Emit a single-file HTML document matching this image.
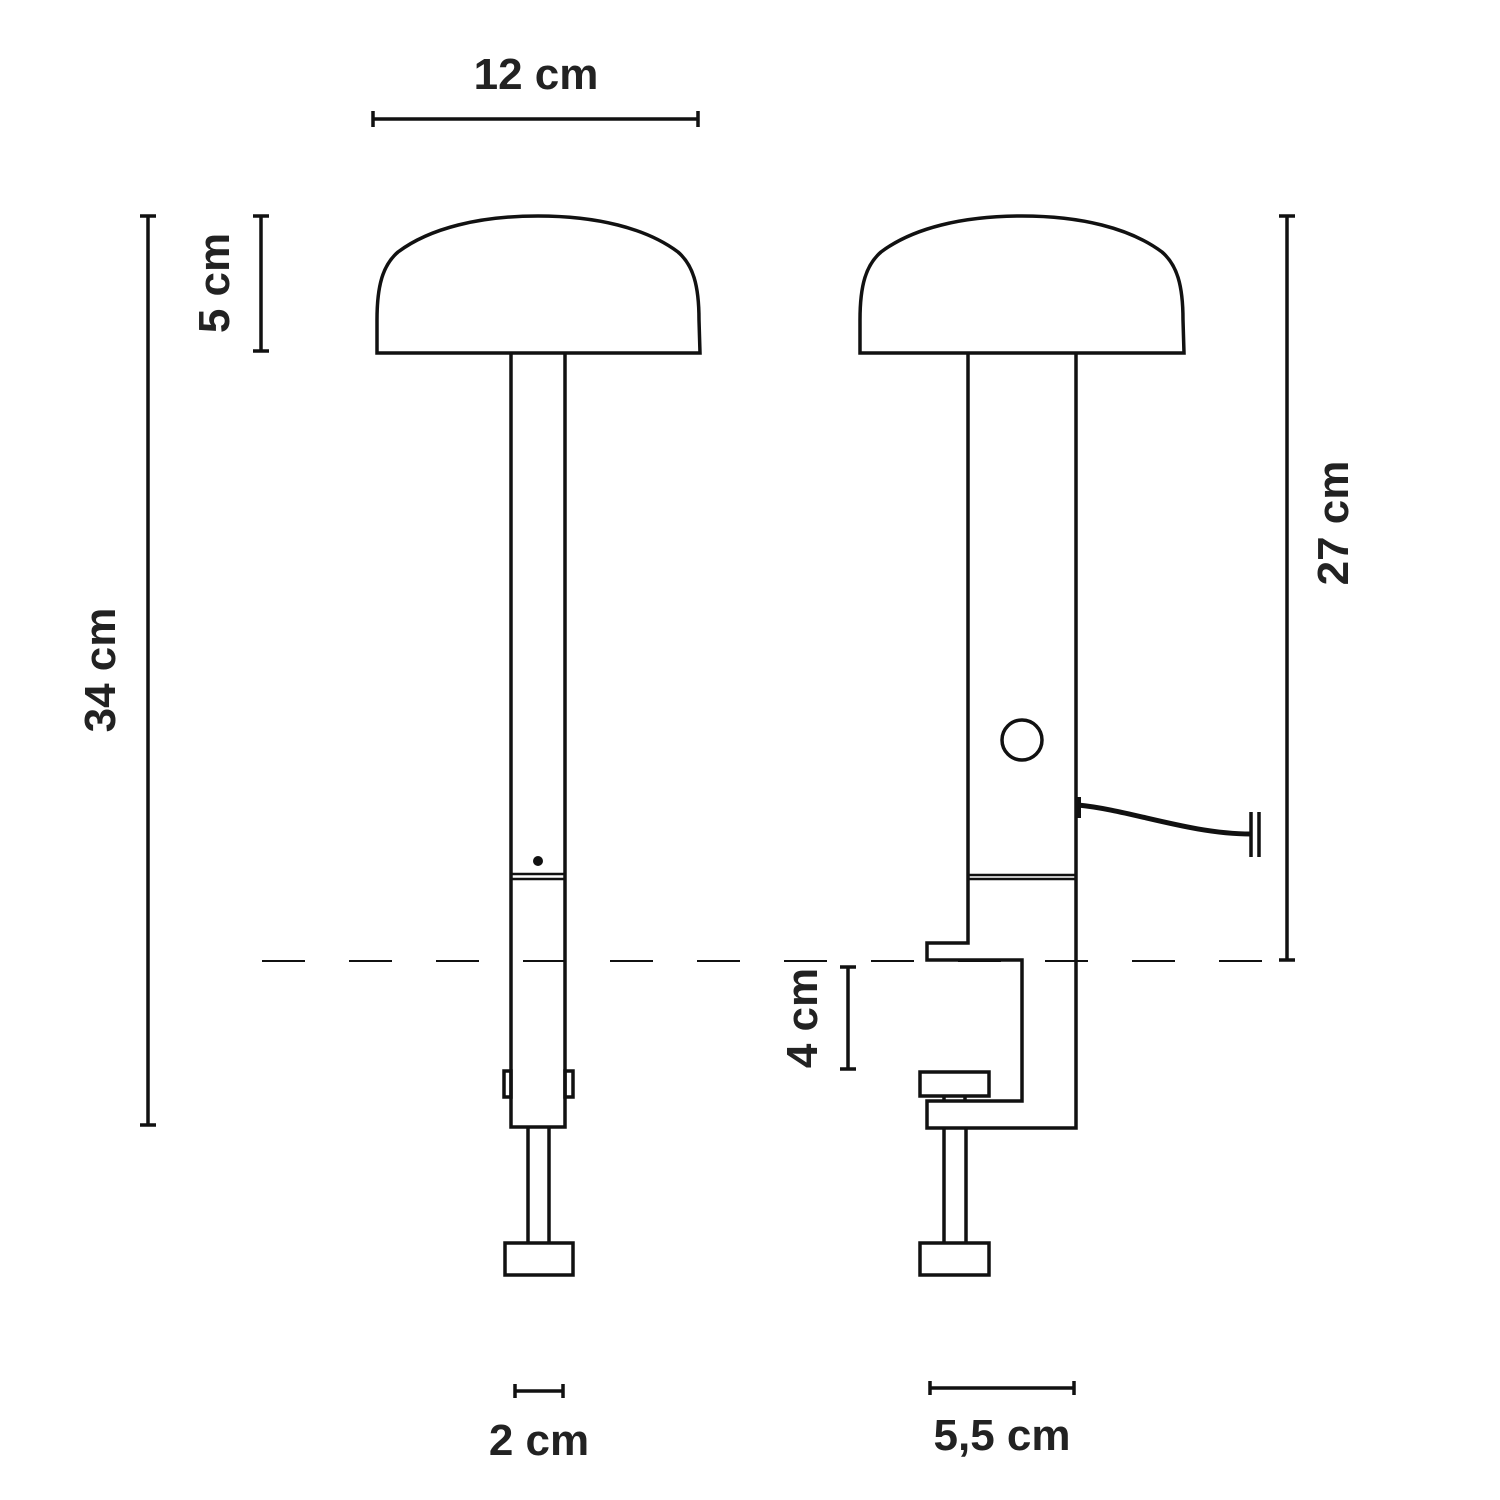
<!DOCTYPE html>
<html><head><style>body{margin:0;background:#fff}svg{display:block}</style></head><body>
<svg width="1500" height="1500" viewBox="0 0 1500 1500" xmlns="http://www.w3.org/2000/svg">
<g fill="none" stroke="#111" stroke-width="3.5">
<!-- dims -->
<path d="M373,119H698M373,111V127M698,111V127"/>
<path d="M148,216V1125M140,216H156M140,1125H156"/>
<path d="M261,216V351M253,216H269M253,351H269"/>
<path d="M1287,216V960M1279,216H1295M1279,960H1295"/>
<path d="M848,967V1069M840,967H856M840,1069H856"/>
<path d="M515,1391H563M515,1384V1398M563,1384V1398"/>
<path d="M930,1388H1074M930,1381V1395M1074,1381V1395"/>
<path d="M262,961H1283" stroke-width="2" stroke-dasharray="43,44"/>
<!-- left lamp -->
<path d="M377,353 L377,320 C377,285 383,265 398,252 C430,228 480,216 538,216 C596,216 646,228 678,252 C693,265 699,285 699,320 L700,353 Z"/>
<path d="M511,353V1127H565V353"/>
<path d="M511,874H565M511,879H565" stroke-width="2.5"/>
<path d="M504,1071H511V1097H504ZM565,1071H573V1097H565Z"/>
<path d="M528,1127V1243M549,1127V1243"/>
<rect x="505" y="1243" width="68" height="32"/>
<!-- right lamp -->
<path d="M860,353 L860,320 C860,285 866,265 881,252 C913,228 963,216 1022,216 C1080,216 1130,228 1162,252 C1177,265 1183,285 1183,320 L1184,353 Z"/>
<path d="M968,353V943H927V960H1022V1101H927V1128H1076V353"/>
<path d="M968,875H1076M968,879H1076" stroke-width="2.5"/>
<circle cx="1022" cy="740" r="20"/>
<rect x="920" y="1072" width="69" height="24"/>
<path d="M944,1096V1101M965,1096V1101"/>
<path d="M944,1128V1243M966,1128V1243"/>
<rect x="920" y="1243" width="69" height="32"/>
<path d="M1078,805 C1130,810 1190,834 1251,834" stroke-width="5"/>
<path d="M1079,797V818" stroke-width="4"/>
<path d="M1251,812V857M1259,812V857"/>
</g>
<circle cx="538" cy="861" r="5" fill="#111"/>
<g font-family="Liberation Sans, sans-serif" font-weight="bold" font-size="44" fill="#222" text-anchor="middle">
<text x="536" y="89">12 cm</text>
<text x="539" y="1455">2 cm</text>
<text x="1002" y="1450">5,5 cm</text>
<text transform="translate(115,670) rotate(-90)">34 cm</text>
<text transform="translate(229,283) rotate(-90)">5 cm</text>
<text transform="translate(1348,523) rotate(-90)">27 cm</text>
<text transform="translate(817,1018) rotate(-90)">4 cm</text>
</g>
</svg>
</body></html>
